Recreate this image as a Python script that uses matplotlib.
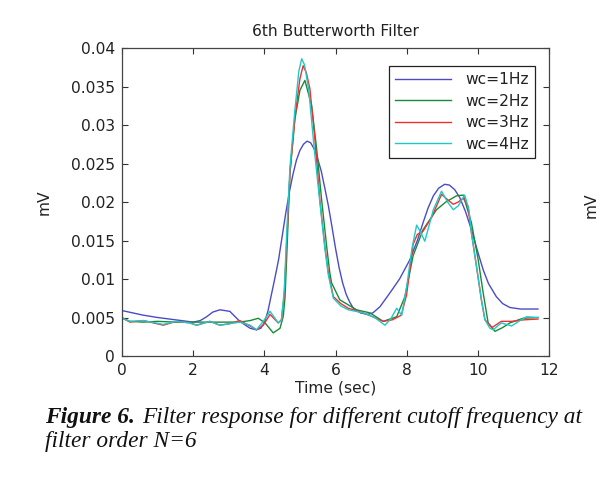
import matplotlib
matplotlib.use("Agg")
import matplotlib.pyplot as plt

# ---------------- data ----------------
t_1hz = [0, 0.6, 1.0, 1.5, 2.0, 2.2, 2.38, 2.55, 2.75, 3.03, 3.31, 3.6, 3.78, 3.9, 4.0,
         4.1, 4.2, 4.3, 4.4, 4.5, 4.6, 4.7, 4.8, 4.9, 5.0, 5.1, 5.2, 5.3, 5.4, 5.5, 5.6,
         5.7, 5.8, 5.9, 6.0, 6.1, 6.2, 6.3, 6.4, 6.5, 6.7, 6.9, 7.05, 7.25, 7.53, 7.8,
         8.09, 8.3, 8.46, 8.6, 8.75, 8.9, 9.07, 9.2, 9.35, 9.49, 9.65, 9.82, 10.0, 10.15,
         10.3, 10.52, 10.7, 10.9, 11.2, 11.69]
v_1hz = [0.0059, 0.0053, 0.0050, 0.0047, 0.0044, 0.0046, 0.0051, 0.0057, 0.0060, 0.0058,
         0.0045, 0.0036, 0.0034, 0.0036, 0.0043, 0.0058, 0.0080, 0.0102, 0.0125, 0.0155,
         0.0185, 0.0212, 0.0235, 0.0254, 0.0267, 0.0275, 0.0279, 0.0277, 0.0269, 0.0256,
         0.0240, 0.0218, 0.0195, 0.0168, 0.0140, 0.0115, 0.0095, 0.0080, 0.0070, 0.0062,
         0.0056, 0.0054, 0.0056, 0.0064, 0.0082, 0.0100, 0.0125, 0.0150, 0.0173, 0.0192,
         0.0208, 0.0218, 0.0223, 0.0222, 0.0216, 0.0206, 0.0188, 0.0164, 0.0135, 0.0112,
         0.0094, 0.0077, 0.0068, 0.0063, 0.0061, 0.0061]

t_2hz = [0, 0.22, 0.6, 1.0, 1.5, 2.0, 2.5, 3.0, 3.3, 3.6, 3.83, 4.02, 4.25, 4.44, 4.53,
         4.58, 4.63, 4.72, 4.86, 5.0, 5.14, 5.33, 5.47, 5.61, 5.75, 5.84, 5.89, 6.12, 6.59,
         6.97, 7.34, 7.72, 7.95, 8.18, 8.46, 8.84, 9.1, 9.4, 9.59, 9.82, 10.01, 10.15,
         10.29, 10.48, 10.7, 10.9, 11.27, 11.69]
v_2hz = [0.0049, 0.0045, 0.0044, 0.0045, 0.0044, 0.0044, 0.0044, 0.0044, 0.0044, 0.0046,
         0.0049, 0.0043, 0.0030, 0.0036, 0.0051, 0.0075, 0.0130, 0.0238, 0.0308, 0.0345,
         0.0358, 0.0325, 0.0269, 0.0203, 0.0143, 0.0108, 0.0095, 0.0073, 0.0060, 0.0056,
         0.0045, 0.0051, 0.0077, 0.0130, 0.0164, 0.0190, 0.0200, 0.0208, 0.0209, 0.0173,
         0.0125, 0.0082, 0.0043, 0.0032, 0.0037, 0.0043, 0.0049, 0.0050]

t_3hz = [0, 0.22, 0.6, 1.16, 1.53, 1.9, 2.1, 2.47, 2.75, 3.03, 3.31, 3.6, 3.78, 3.97,
         4.16, 4.39, 4.48, 4.56, 4.63, 4.72, 4.86, 5.0, 5.09, 5.18, 5.28, 5.42, 5.56,
         5.7, 5.8, 5.94, 6.15, 6.36, 6.78, 7.1, 7.34, 7.6, 7.85, 8.0, 8.18, 8.3, 8.46,
         8.7, 8.98, 9.15, 9.31, 9.45, 9.59, 9.72, 9.82, 9.96, 10.1, 10.2, 10.4, 10.66,
         10.95, 11.3, 11.69]
v_3hz = [0.0050, 0.0044, 0.0046, 0.0040, 0.0045, 0.0043, 0.0040, 0.0045, 0.0040, 0.0042,
         0.0046, 0.0039, 0.0034, 0.0040, 0.0054, 0.0043, 0.0047, 0.0080, 0.0150, 0.0238,
         0.0310, 0.0360, 0.0377, 0.0368, 0.0347, 0.0282, 0.0203, 0.0143, 0.0108, 0.0077,
         0.0068, 0.0062, 0.0056, 0.0050, 0.0045, 0.0047, 0.0053, 0.0080, 0.0145, 0.0158,
         0.0162, 0.0180, 0.0210, 0.0203, 0.0197, 0.0200, 0.0205, 0.0195, 0.0160, 0.0117,
         0.0073, 0.0047, 0.0037, 0.0045, 0.0045, 0.0047, 0.0048]

t_4hz = [0, 0.22, 0.6, 1.16, 1.53, 1.9, 2.1, 2.47, 2.75, 3.03, 3.31, 3.6, 3.78, 3.97,
         4.16, 4.39, 4.48, 4.56, 4.63, 4.72, 4.86, 4.97, 5.05, 5.13, 5.25, 5.4, 5.56,
         5.7, 5.8, 5.94, 6.15, 6.36, 6.78, 7.1, 7.39, 7.55, 7.72, 7.86, 8.0, 8.15, 8.28,
         8.4, 8.51, 8.75, 8.98, 9.15, 9.31, 9.45, 9.63, 9.75, 9.82, 9.96, 10.1, 10.2,
         10.34, 10.43, 10.66, 10.95, 11.15, 11.37, 11.69]
v_4hz = [0.0049, 0.0045, 0.0046, 0.0041, 0.0045, 0.0043, 0.0040, 0.0045, 0.0040, 0.0042,
         0.0044, 0.0040, 0.0034, 0.0045, 0.0058, 0.0043, 0.0046, 0.0085, 0.0160, 0.0245,
         0.0320, 0.0370, 0.0386, 0.0378, 0.0345, 0.0270, 0.0200, 0.0140, 0.0105, 0.0075,
         0.0065, 0.0060, 0.0056, 0.0050, 0.0040, 0.0048, 0.0062, 0.0053, 0.0090, 0.0140,
         0.0170, 0.0160, 0.0149, 0.0190, 0.0214, 0.0200, 0.0190, 0.0195, 0.0209, 0.0190,
         0.0160, 0.0117, 0.0073, 0.0047, 0.0036, 0.0034, 0.0043, 0.0039, 0.0045, 0.0051,
         0.0050]

series_labels = ["wc=1Hz", "wc=2Hz", "wc=3Hz", "wc=4Hz"]
x_ticks = [0, 2, 4, 6, 8, 10, 12]
y_ticks = [0, 0.005, 0.01, 0.015, 0.02, 0.025, 0.03, 0.035, 0.04]
y_tick_labels = ["0", "0.005", "0.01", "0.015", "0.02", "0.025", "0.03", "0.035", "0.04"]
title = "6th Butterworth Filter"
x_label = "Time (sec)"
y_label = "mV"
caption_bold = "Figure 6."
caption_rest = "Filter response for different cutoff frequency at"
caption_line2 = "filter order N=6"

# ---------------- figure ----------------
W, H = 600, 483
fig = plt.figure(figsize=(W / 100, H / 100), dpi=100)
fig.patch.set_facecolor("white")

ax_l, ax_r, ax_t, ax_b = 122, 549, 48, 356
ax = fig.add_axes([ax_l / W, 1 - ax_b / H, (ax_r - ax_l) / W, (ax_b - ax_t) / H])

colors = ["#4b4bc8", "#1a8a3a", "#f03030", "#20c8c8"]
series = [(t_1hz, v_1hz), (t_2hz, v_2hz), (t_3hz, v_3hz), (t_4hz, v_4hz)]
for (tt, vv), c, lab in zip(series, colors, series_labels):
    ax.plot(tt, vv, color=c, lw=1.0, label=lab)

font = "DejaVu Sans"
fs = 11.2
ax.set_xlim(0, 12)
ax.set_ylim(0, 0.04)
ax.set_xticks(x_ticks)
ax.set_xticklabels([str(x) for x in x_ticks], family=font, fontsize=fs, color="#222222")
ax.set_yticks(y_ticks)
ax.set_yticklabels(y_tick_labels, family=font, fontsize=fs, color="#222222")
ax.tick_params(direction="in", length=4, width=0.8, top=True, right=True, pad=5,
               color="#333333")
for s in ax.spines.values():
    s.set_color("#444444")
    s.set_linewidth(0.9)

ax.set_title(title, family=font, fontsize=fs, color="#222222", pad=9)
ax.set_xlabel(x_label, family=font, fontsize=fs, color="#222222", labelpad=2)
ax.set_ylabel(y_label, family=font, fontsize=fs, color="#222222", labelpad=14)

leg = ax.legend(loc="upper right",
                bbox_to_anchor=((535 - ax_l) / (ax_r - ax_l), (ax_b - 66) / (ax_b - ax_t)),
                borderaxespad=0, fancybox=False, framealpha=1, edgecolor="#222222",
                prop={"family": font, "size": fs}, handlelength=3.6, labelspacing=0.42,
                borderpad=0.4, handletextpad=0.9)
leg.get_frame().set_linewidth(0.9)
for txt in leg.get_texts():
    txt.set_color("#222222")

# neighbour panel fragment at right edge
fig.text(599 / W, 1 - 205 / H, y_label, family=font, fontsize=fs, rotation=90,
         ha="right", va="center", color="#222222")

# caption
serif = "Liberation Serif"
cfs = 16.8
t1 = fig.text(45 / W, 1 - 417 / H, caption_bold, family=serif, fontsize=cfs,
              style="italic", weight="bold", ha="left", va="center", color="#111111")
fig.canvas.draw()
bb = t1.get_window_extent(renderer=fig.canvas.get_renderer())
fig.text((bb.x1 + 7) / W, 1 - 417 / H, caption_rest, family=serif, fontsize=cfs,
         style="italic", ha="left", va="center", color="#111111")
fig.text(45 / W, 1 - 442 / H, caption_line2, family=serif, fontsize=cfs,
         style="italic", ha="left", va="center", color="#111111")

fig.savefig("out.png", dpi=100)
